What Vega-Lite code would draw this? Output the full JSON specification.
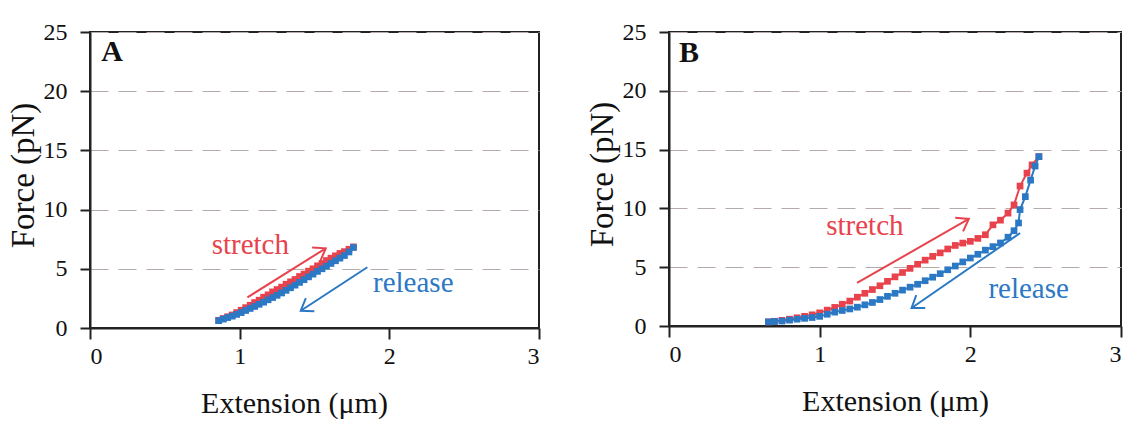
{
  "$schema": "https://vega.github.io/schema/vega-lite/v6.json",
  "background": "white",
  "padding": {"left": 6, "top": 19, "right": 0, "bottom": 0},
  "spacing": 130,
  "bounds": "flush",
  "config": {
    "font": "Liberation Serif, Times New Roman, DejaVu Serif, serif",
    "view": {"stroke": "#222", "strokeWidth": 2},
    "axis": {
      "labelFont": "Liberation Serif, Times New Roman, DejaVu Serif, serif", "titleFont": "Liberation Serif, Times New Roman, DejaVu Serif, serif",
      "labelFontSize": 24, "titleFontSize": 30, "titleFontWeight": "normal",
      "labelColor": "#111", "titleColor": "#111",
      "domainColor": "#222", "domainWidth": 2,
      "tickColor": "#222", "tickWidth": 2, "tickSize": 10,
      "gridColor": "#b5aaac", "gridDash": [18, 10], "gridWidth": 1.2
    },
    "axisX": {"grid": false, "labelPadding": 5, "titlePadding": 20, "tickSize": 11},
    "axisY": {"grid": true, "labelPadding": 13, "titlePadding": 3, "titleFontSize": 33}
  },
  "datasets": {
    "curveA": [
      {"series": "stretch", "ext": 0.86, "force": 0.65},
      {"series": "stretch", "ext": 0.89, "force": 0.8},
      {"series": "stretch", "ext": 0.92, "force": 0.95},
      {"series": "stretch", "ext": 0.95, "force": 1.1},
      {"series": "stretch", "ext": 0.98, "force": 1.3},
      {"series": "stretch", "ext": 1.01, "force": 1.5},
      {"series": "stretch", "ext": 1.04, "force": 1.72},
      {"series": "stretch", "ext": 1.07, "force": 1.92},
      {"series": "stretch", "ext": 1.1, "force": 2.15},
      {"series": "stretch", "ext": 1.13, "force": 2.35},
      {"series": "stretch", "ext": 1.16, "force": 2.6},
      {"series": "stretch", "ext": 1.19, "force": 2.8},
      {"series": "stretch", "ext": 1.22, "force": 3.05},
      {"series": "stretch", "ext": 1.25, "force": 3.25},
      {"series": "stretch", "ext": 1.28, "force": 3.45},
      {"series": "stretch", "ext": 1.31, "force": 3.7},
      {"series": "stretch", "ext": 1.34, "force": 3.9},
      {"series": "stretch", "ext": 1.37, "force": 4.1},
      {"series": "stretch", "ext": 1.4, "force": 4.35},
      {"series": "stretch", "ext": 1.43, "force": 4.55},
      {"series": "stretch", "ext": 1.46, "force": 4.8},
      {"series": "stretch", "ext": 1.49, "force": 5.0},
      {"series": "stretch", "ext": 1.52, "force": 5.25},
      {"series": "stretch", "ext": 1.55, "force": 5.45},
      {"series": "stretch", "ext": 1.58, "force": 5.7},
      {"series": "stretch", "ext": 1.61, "force": 5.9},
      {"series": "stretch", "ext": 1.64, "force": 6.1},
      {"series": "stretch", "ext": 1.67, "force": 6.3},
      {"series": "stretch", "ext": 1.7, "force": 6.45},
      {"series": "stretch", "ext": 1.73, "force": 6.65},
      {"series": "stretch", "ext": 1.76, "force": 6.85},
      {"series": "release", "ext": 0.86, "force": 0.62},
      {"series": "release", "ext": 0.89, "force": 0.75},
      {"series": "release", "ext": 0.92, "force": 0.88},
      {"series": "release", "ext": 0.95, "force": 1.0},
      {"series": "release", "ext": 0.98, "force": 1.15},
      {"series": "release", "ext": 1.01, "force": 1.3},
      {"series": "release", "ext": 1.04, "force": 1.48},
      {"series": "release", "ext": 1.07, "force": 1.65},
      {"series": "release", "ext": 1.1, "force": 1.82},
      {"series": "release", "ext": 1.13, "force": 2.0},
      {"series": "release", "ext": 1.16, "force": 2.18},
      {"series": "release", "ext": 1.19, "force": 2.38},
      {"series": "release", "ext": 1.22, "force": 2.57},
      {"series": "release", "ext": 1.25, "force": 2.76},
      {"series": "release", "ext": 1.28, "force": 2.96},
      {"series": "release", "ext": 1.31, "force": 3.18},
      {"series": "release", "ext": 1.34, "force": 3.4},
      {"series": "release", "ext": 1.37, "force": 3.62},
      {"series": "release", "ext": 1.4, "force": 3.85},
      {"series": "release", "ext": 1.43, "force": 4.08},
      {"series": "release", "ext": 1.46, "force": 4.32},
      {"series": "release", "ext": 1.49, "force": 4.55},
      {"series": "release", "ext": 1.52, "force": 4.78},
      {"series": "release", "ext": 1.55, "force": 5.0},
      {"series": "release", "ext": 1.58, "force": 5.22},
      {"series": "release", "ext": 1.61, "force": 5.45},
      {"series": "release", "ext": 1.64, "force": 5.68},
      {"series": "release", "ext": 1.67, "force": 5.9},
      {"series": "release", "ext": 1.7, "force": 6.12},
      {"series": "release", "ext": 1.73, "force": 6.42},
      {"series": "release", "ext": 1.76, "force": 6.8}
    ],
    "curveB": [
      {"series": "stretch", "ext": 0.66, "force": 0.35},
      {"series": "stretch", "ext": 0.7, "force": 0.4},
      {"series": "stretch", "ext": 0.75, "force": 0.48},
      {"series": "stretch", "ext": 0.8, "force": 0.58},
      {"series": "stretch", "ext": 0.85, "force": 0.7},
      {"series": "stretch", "ext": 0.9, "force": 0.82},
      {"series": "stretch", "ext": 0.95, "force": 0.95},
      {"series": "stretch", "ext": 1.0, "force": 1.12},
      {"series": "stretch", "ext": 1.05, "force": 1.35},
      {"series": "stretch", "ext": 1.1, "force": 1.58},
      {"series": "stretch", "ext": 1.15, "force": 1.85},
      {"series": "stretch", "ext": 1.2, "force": 2.12},
      {"series": "stretch", "ext": 1.25, "force": 2.45},
      {"series": "stretch", "ext": 1.3, "force": 2.78},
      {"series": "stretch", "ext": 1.35, "force": 3.1},
      {"series": "stretch", "ext": 1.4, "force": 3.42},
      {"series": "stretch", "ext": 1.45, "force": 3.8},
      {"series": "stretch", "ext": 1.5, "force": 4.18},
      {"series": "stretch", "ext": 1.55, "force": 4.55},
      {"series": "stretch", "ext": 1.6, "force": 4.9},
      {"series": "stretch", "ext": 1.65, "force": 5.25},
      {"series": "stretch", "ext": 1.7, "force": 5.6},
      {"series": "stretch", "ext": 1.75, "force": 5.92},
      {"series": "stretch", "ext": 1.8, "force": 6.22},
      {"series": "stretch", "ext": 1.85, "force": 6.55},
      {"series": "stretch", "ext": 1.9, "force": 6.85},
      {"series": "stretch", "ext": 1.95, "force": 7.05},
      {"series": "stretch", "ext": 2.0, "force": 7.2},
      {"series": "stretch", "ext": 2.05, "force": 7.45},
      {"series": "stretch", "ext": 2.1, "force": 7.76},
      {"series": "stretch", "ext": 2.15, "force": 8.6},
      {"series": "stretch", "ext": 2.2, "force": 9.0},
      {"series": "stretch", "ext": 2.25, "force": 9.6},
      {"series": "stretch", "ext": 2.29, "force": 10.3},
      {"series": "stretch", "ext": 2.33, "force": 11.9},
      {"series": "stretch", "ext": 2.376, "force": 13.0},
      {"series": "stretch", "ext": 2.41, "force": 13.7},
      {"series": "stretch", "ext": 2.455, "force": 14.4},
      {"series": "release", "ext": 0.66, "force": 0.35},
      {"series": "release", "ext": 0.7, "force": 0.38},
      {"series": "release", "ext": 0.75, "force": 0.42},
      {"series": "release", "ext": 0.8, "force": 0.5},
      {"series": "release", "ext": 0.85, "force": 0.58},
      {"series": "release", "ext": 0.9, "force": 0.65},
      {"series": "release", "ext": 0.95, "force": 0.72},
      {"series": "release", "ext": 1.0, "force": 0.82},
      {"series": "release", "ext": 1.05, "force": 1.0},
      {"series": "release", "ext": 1.1, "force": 1.18},
      {"series": "release", "ext": 1.15, "force": 1.32},
      {"series": "release", "ext": 1.2, "force": 1.45},
      {"series": "release", "ext": 1.25, "force": 1.6},
      {"series": "release", "ext": 1.3, "force": 1.8},
      {"series": "release", "ext": 1.35, "force": 2.0},
      {"series": "release", "ext": 1.4, "force": 2.25},
      {"series": "release", "ext": 1.45, "force": 2.52},
      {"series": "release", "ext": 1.5, "force": 2.78},
      {"series": "release", "ext": 1.55, "force": 3.05},
      {"series": "release", "ext": 1.6, "force": 3.3},
      {"series": "release", "ext": 1.65, "force": 3.55},
      {"series": "release", "ext": 1.7, "force": 3.85},
      {"series": "release", "ext": 1.75, "force": 4.15},
      {"series": "release", "ext": 1.8, "force": 4.45},
      {"series": "release", "ext": 1.85, "force": 4.78},
      {"series": "release", "ext": 1.9, "force": 5.1},
      {"series": "release", "ext": 1.95, "force": 5.45},
      {"series": "release", "ext": 2.0, "force": 5.78},
      {"series": "release", "ext": 2.05, "force": 6.1},
      {"series": "release", "ext": 2.1, "force": 6.45},
      {"series": "release", "ext": 2.15, "force": 6.75},
      {"series": "release", "ext": 2.2, "force": 7.06},
      {"series": "release", "ext": 2.25, "force": 7.55},
      {"series": "release", "ext": 2.29, "force": 8.1},
      {"series": "release", "ext": 2.32, "force": 8.76},
      {"series": "release", "ext": 2.33, "force": 9.9},
      {"series": "release", "ext": 2.365, "force": 11.0},
      {"series": "release", "ext": 2.4, "force": 12.4},
      {"series": "release", "ext": 2.43, "force": 13.6},
      {"series": "release", "ext": 2.455, "force": 14.4}
    ],
    "shaftA": [
      {"series": "stretch", "ext": 1.052, "force": 2.59, "ext2": 1.575, "force2": 6.73},
      {"series": "release", "ext": 1.853, "force": 5.13, "ext2": 1.408, "force2": 1.46}
    ],
    "headA": [
      {"series": "stretch", "ext": 1.575, "force": 6.73},
      {"series": "release", "ext": 1.408, "force": 1.46}
    ],
    "textA": [
      {"series": "stretch", "ext": 1.071, "force": 6.25, "txt": "stretch"},
      {"series": "release", "ext": 2.16, "force": 3.0, "txt": "release"}
    ],
    "letterA": [{"ext": 0.075, "force": 22.55, "txt": "A"}],
    "shaftB": [
      {"series": "stretch", "ext": 1.248, "force": 3.66, "ext2": 1.99, "force2": 9.1},
      {"series": "release", "ext": 2.33, "force": 7.9, "ext2": 1.61, "force2": 1.53}
    ],
    "headB": [
      {"series": "stretch", "ext": 1.99, "force": 9.1},
      {"series": "release", "ext": 1.61, "force": 1.53}
    ],
    "textB": [
      {"series": "stretch", "ext": 1.3, "force": 7.76, "txt": "stretch"},
      {"series": "release", "ext": 2.387, "force": 2.38, "txt": "release"}
    ],
    "letterB": [{"ext": 0.066, "force": 22.45, "txt": "B"}]
  },
  "hconcat": [
    {
      "width": 449,
      "height": 296,
      "encoding": {
        "x": {"field": "ext", "type": "quantitative", "scale": {"domain": [0, 3], "nice": false},
              "axis": {"values": [0, 1, 2, 3], "title": "Extension (μm)", "titleX": 204}},
        "y": {"field": "force", "type": "quantitative", "scale": {"domain": [0, 25], "nice": false},
              "axis": {"values": [0, 5, 10, 15, 20, 25], "title": "Force (pN)", "titleY": 143}}
      },
      "layer": [
        {"data": {"name": "curveA"}, "transform": [{"filter": "datum.series === 'stretch'"}],
         "mark": {"type": "line", "color": "#e8434d", "strokeWidth": 2,
                  "point": {"shape": "square", "filled": true, "size": 45, "color": "#e8434d"}}},
        {"data": {"name": "curveA"}, "transform": [{"filter": "datum.series === 'release'"}],
         "mark": {"type": "line", "color": "#2b78c4", "strokeWidth": 2,
                  "point": {"shape": "square", "filled": true, "size": 45, "color": "#2b78c4"}}},
        {"data": {"name": "shaftA"}, "mark": {"type": "rule", "strokeWidth": 2},
         "encoding": {"x2": {"field": "ext2"}, "y2": {"field": "force2"},
                      "color": {"field": "series", "type": "nominal", "scale": {"domain": ["stretch", "release"], "range": ["#e8434d", "#2b78c4"]}, "legend": null}}},
        {"data": {"name": "headA"}, "transform": [{"filter": "datum.series === 'stretch'"}],
         "mark": {"type": "point", "shape": "M-1,-0.7L0,0L-1,0.7", "filled": false, "size": 500, "angle": -32, "strokeWidth": 2, "color": "#e8434d", "opacity": 1}},
        {"data": {"name": "headA"}, "transform": [{"filter": "datum.series === 'release'"}],
         "mark": {"type": "point", "shape": "M-1,-0.7L0,0L-1,0.7", "filled": false, "size": 500, "angle": 147, "strokeWidth": 2, "color": "#2b78c4", "opacity": 1}},
        {"data": {"name": "textA"}, "mark": {"type": "text", "font": "Liberation Serif, Times New Roman, DejaVu Serif, serif", "fontSize": 29, "align": "center", "baseline": "alphabetic"},
         "encoding": {"text": {"field": "txt"},
                      "color": {"field": "series", "type": "nominal", "scale": {"domain": ["stretch", "release"], "range": ["#e8434d", "#2b78c4"]}, "legend": null}}},
        {"data": {"name": "letterA"}, "mark": {"type": "text", "font": "Liberation Serif, Times New Roman, DejaVu Serif, serif", "fontSize": 30, "fontWeight": "bold", "align": "left", "baseline": "alphabetic", "color": "#111"},
         "encoding": {"text": {"field": "txt"}}}
      ]
    },
    {
      "width": 452,
      "height": 294,
      "encoding": {
        "x": {"field": "ext", "type": "quantitative", "scale": {"domain": [0, 3], "nice": false},
              "axis": {"values": [0, 1, 2, 3], "title": "Extension (μm)"}},
        "y": {"field": "force", "type": "quantitative", "scale": {"domain": [0, 25], "nice": false},
              "axis": {"values": [0, 5, 10, 15, 20, 25], "title": "Force (pN)", "titleY": 142}}
      },
      "layer": [
        {"data": {"name": "curveB"}, "transform": [{"filter": "datum.series === 'stretch'"}],
         "mark": {"type": "line", "color": "#e8434d", "strokeWidth": 2,
                  "point": {"shape": "square", "filled": true, "size": 45, "color": "#e8434d"}}},
        {"data": {"name": "curveB"}, "transform": [{"filter": "datum.series === 'release'"}],
         "mark": {"type": "line", "color": "#2b78c4", "strokeWidth": 2,
                  "point": {"shape": "square", "filled": true, "size": 45, "color": "#2b78c4"}}},
        {"data": {"name": "shaftB"}, "mark": {"type": "rule", "strokeWidth": 2},
         "encoding": {"x2": {"field": "ext2"}, "y2": {"field": "force2"},
                      "color": {"field": "series", "type": "nominal", "scale": {"domain": ["stretch", "release"], "range": ["#e8434d", "#2b78c4"]}, "legend": null}}},
        {"data": {"name": "headB"}, "transform": [{"filter": "datum.series === 'stretch'"}],
         "mark": {"type": "point", "shape": "M-1,-0.7L0,0L-1,0.7", "filled": false, "size": 500, "angle": -30, "strokeWidth": 2, "color": "#e8434d", "opacity": 1}},
        {"data": {"name": "headB"}, "transform": [{"filter": "datum.series === 'release'"}],
         "mark": {"type": "point", "shape": "M-1,-0.7L0,0L-1,0.7", "filled": false, "size": 500, "angle": 145, "strokeWidth": 2, "color": "#2b78c4", "opacity": 1}},
        {"data": {"name": "textB"}, "mark": {"type": "text", "font": "Liberation Serif, Times New Roman, DejaVu Serif, serif", "fontSize": 29, "align": "center", "baseline": "alphabetic"},
         "encoding": {"text": {"field": "txt"},
                      "color": {"field": "series", "type": "nominal", "scale": {"domain": ["stretch", "release"], "range": ["#e8434d", "#2b78c4"]}, "legend": null}}},
        {"data": {"name": "letterB"}, "mark": {"type": "text", "font": "Liberation Serif, Times New Roman, DejaVu Serif, serif", "fontSize": 30, "fontWeight": "bold", "align": "left", "baseline": "alphabetic", "color": "#111"},
         "encoding": {"text": {"field": "txt"}}}
      ]
    }
  ]
}
